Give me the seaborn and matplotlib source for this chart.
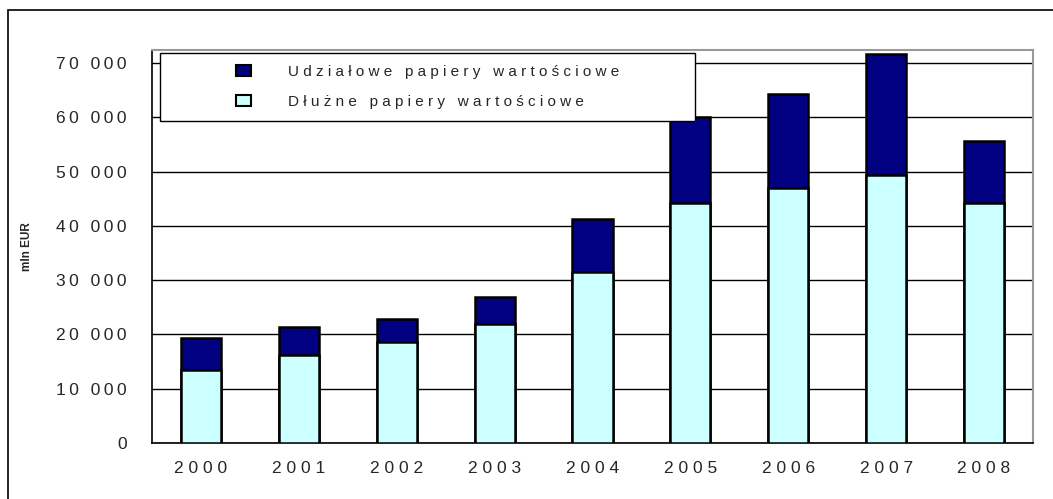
import numpy as np
import pandas as pd
import matplotlib
matplotlib.use("Agg")
import matplotlib.pyplot as plt
from matplotlib.patches import Rectangle, Patch
import seaborn as sns

# dane (mln EUR)
years = ['2000', '2001', '2002', '2003', '2004', '2005', '2006', '2007', '2008']
dluzne = [13400, 16200, 18600, 21900, 31500, 44200, 47000, 49400, 44200]
udzialowe = [5900, 5200, 4200, 5000, 9800, 15900, 17300, 22300, 11400]
yticks = [0, 10000, 20000, 30000, 40000, 50000, 60000, 70000]

lab_udz = 'Udziałowe papiery wartościowe'
lab_dlu = 'Dłużne papiery wartościowe'


def spaced(s, sep=' '):
    # tekst rozstrzelony jak w oryginale
    return sep.join(s)


df = pd.DataFrame({'rok': years, 'dluzne': dluzne, 'udzialowe': udzialowe})
df['razem'] = df['dluzne'] + df['udzialowe']

sns.set_theme(style='white')
plt.rcParams['font.family'] = ['Liberation Sans', 'DejaVu Sans']

fig = plt.figure(figsize=(10.53, 4.99), dpi=100)
ax = fig.add_axes([152 / 1053, 56 / 499, 881 / 1053, 393 / 499])

sns.barplot(data=df, x='rok', y='razem', color='#000080', width=0.41,
            edgecolor='black', linewidth=1.8, saturation=1, ax=ax, zorder=3)
sns.barplot(data=df, x='rok', y='dluzne', color='#CCFFFF', width=0.41,
            edgecolor='black', linewidth=1.8, saturation=1, ax=ax, zorder=3)

ax.set_xlim(-0.5, len(years) - 0.5)
ax.set_ylim(0, 72400)
ax.set_yticks(yticks)
ax.set_yticklabels([spaced(f'{v:,}'.replace(',', ' '), '\u2009') for v in yticks], fontsize=12.5)
ax.set_xticks(range(len(years)))
ax.set_xticklabels([spaced(y) for y in years], fontsize=12.5)
ax.set_xticks(np.arange(-0.5, len(years), 1), minor=True)
ax.tick_params(axis='x', which='major', length=0, pad=13)
ax.tick_params(axis='x', which='minor', length=5, width=1, color='black', direction='out')
ax.tick_params(axis='y', length=5, width=1, color='black', direction='out', pad=13)
ax.set_xlabel('')
ax.set_ylabel('mln EUR', fontsize=8.5, fontweight='bold')
ax.yaxis.set_label_coords((33 - 152) / 881, 0.5)

ax.yaxis.grid(True, color='black', linewidth=1)
ax.set_axisbelow(True)

for side in ['left', 'bottom']:
    ax.spines[side].set_color('black')
    ax.spines[side].set_linewidth(1.2)
for side in ['top', 'right']:
    ax.spines[side].set_color('#999999')
    ax.spines[side].set_linewidth(1.5)

# ramka legendy
x0, x1 = (160 - 152) / 881, (695 - 152) / 881
y0, y1 = (443 - 121) / 393, (443 - 53) / 393
frame = Rectangle((x0, y0), x1 - x0, y1 - y0, transform=ax.transAxes, facecolor='white',
                  edgecolor='black', linewidth=1, zorder=5, clip_on=False)
ax.add_patch(frame)

handles = [Patch(facecolor='#000080', edgecolor='black', linewidth=1.5, label=spaced(lab_udz)),
           Patch(facecolor='#CCFFFF', edgecolor='black', linewidth=1.5, label=spaced(lab_dlu))]
leg = ax.legend(handles=handles, loc='center', bbox_to_anchor=((x0 + x1) / 2, (y0 + y1) / 2),
                fontsize=11, frameon=False, handlelength=1.0, handleheight=0.7,
                handletextpad=2.4, labelspacing=1.05, borderaxespad=0, borderpad=0)
leg.set_zorder(6)
leg._legend_box.align = 'left'

fig.patches.append(Rectangle((8 / 1053, -0.1), 1.2, 0.1 + 489 / 499, transform=fig.transFigure,
                             fill=False, edgecolor='black', linewidth=1.2))

fig.savefig('out.png', dpi=100)
